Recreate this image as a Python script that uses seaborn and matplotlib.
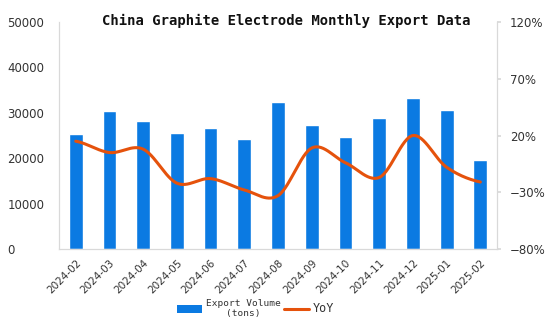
import numpy as np
import pandas as pd
import matplotlib
matplotlib.use("Agg")
import matplotlib.pyplot as plt
import seaborn as sns
from matplotlib.patches import Patch
from matplotlib.lines import Line2D

months = ["2024-02", "2024-03", "2024-04", "2024-05", "2024-06", "2024-07", "2024-08",
          "2024-09", "2024-10", "2024-11", "2024-12", "2025-01", "2025-02"]
volume = [25300, 30400, 28200, 25600, 26700, 24300, 32400, 27300, 24700, 28900, 33300, 30600, 19600]
yoy = [15, 5, 8, -22, -18, -28, -33, 9, -4, -17, 20, -8, -21]
left_ticks = [0, 10000, 20000, 30000, 40000, 50000]
right_ticks = [-80, -30, 20, 70, 120]

BAR = "#0b7ae2"
LINE = "#e5520c"

sns.set_theme(style="white")
plt.rcParams["font.family"] = ["DejaVu Sans"]

fig = plt.figure(figsize=(5.5, 3.25), dpi=100)
ax = fig.add_axes([0.107, 0.234, 0.797, 0.698])

df = pd.DataFrame({"month": months, "volume": volume})
sns.barplot(data=df, x="month", y="volume", color=BAR, width=0.41, saturation=1, ax=ax, zorder=2)
ax.set_xlim(-0.5, len(months) - 0.5)
ax.set_ylim(0, 50000)
ax.set_yticks(left_ticks)
ax.set_yticklabels([str(t) for t in left_ticks])
ax.set_xlabel("")
ax.set_ylabel("")
ax.tick_params(axis="y", length=0, labelsize=8.5, labelcolor="#333333", pad=37)
ax.tick_params(axis="x", length=0, labelsize=7.5, labelcolor="#333333", pad=6)
for lab in ax.get_xticklabels():
    lab.set_rotation(45)
    lab.set_ha("right")
    lab.set_rotation_mode("anchor")
for lab in ax.get_yticklabels():
    lab.set_ha("left")

ax.spines["top"].set_visible(False)
for s in ["left", "right", "bottom"]:
    ax.spines[s].set_color("#d9d9d9")
    ax.spines[s].set_linewidth(0.8)

ax2 = ax.twinx()
ax2.set_ylim(-80, 120)
ax2.set_yticks(right_ticks)
ax2.set_yticklabels([(f"{t}%").replace("-", "\u2212") for t in right_ticks])
ax2.tick_params(axis="y", length=3, color="#d9d9d9", labelsize=8.5, labelcolor="#333333", pad=6)
ax2.spines["top"].set_visible(False)
for s in ["left", "right", "bottom"]:
    ax2.spines[s].set_color("#d9d9d9")
    ax2.spines[s].set_linewidth(0.8)
ax2.grid(False)
ax.grid(False)

# smooth curve (Catmull-Rom) through the YoY points
x = np.arange(len(yoy), dtype=float)
y = np.array(yoy, dtype=float)
xs, ys = [], []
for i in range(len(x) - 1):
    p0 = y[i - 1] if i > 0 else y[i]
    p1, p2 = y[i], y[i + 1]
    p3 = y[i + 2] if i + 2 < len(y) else y[i + 1]
    t = np.linspace(0, 1, 30)
    m1 = (p2 - p0) / 2
    m2 = (p3 - p1) / 2
    h00 = 2 * t**3 - 3 * t**2 + 1
    h10 = t**3 - 2 * t**2 + t
    h01 = -2 * t**3 + 3 * t**2
    h11 = t**3 - t**2
    xs.extend(x[i] + t)
    ys.extend(h00 * p1 + h10 * m1 + h01 * p2 + h11 * m2)
ax2.plot(xs, ys, color=LINE, lw=2.2, solid_capstyle="round", zorder=3)
ax2.set_xlim(-0.5, len(months) - 0.5)

fig.text(0.52, 1 - 20.5 / 325, "China Graphite Electrode Monthly Export Data", ha="center", va="center",
         fontsize=10, fontweight="bold", family="DejaVu Sans Mono", color="#111111")

handles = [Patch(facecolor=BAR, edgecolor="none"), Line2D([0], [0], color=LINE, lw=2.2)]
leg = fig.legend(handles, ["Export Volume\n(tons)", "YoY"], loc="center", bbox_to_anchor=(0.465, 0.05),
                 ncol=2, frameon=False, prop={"family": "DejaVu Sans Mono", "size": 6.8},
                 handlelength=2.6, handleheight=0.9, columnspacing=0.4, handletextpad=0.4)
for txt in leg.get_texts():
    txt.set_multialignment("center")
    txt.set_color("#333333")
leg.get_texts()[1].set_fontsize(8.5)

fig.savefig("out.png", dpi=100)
